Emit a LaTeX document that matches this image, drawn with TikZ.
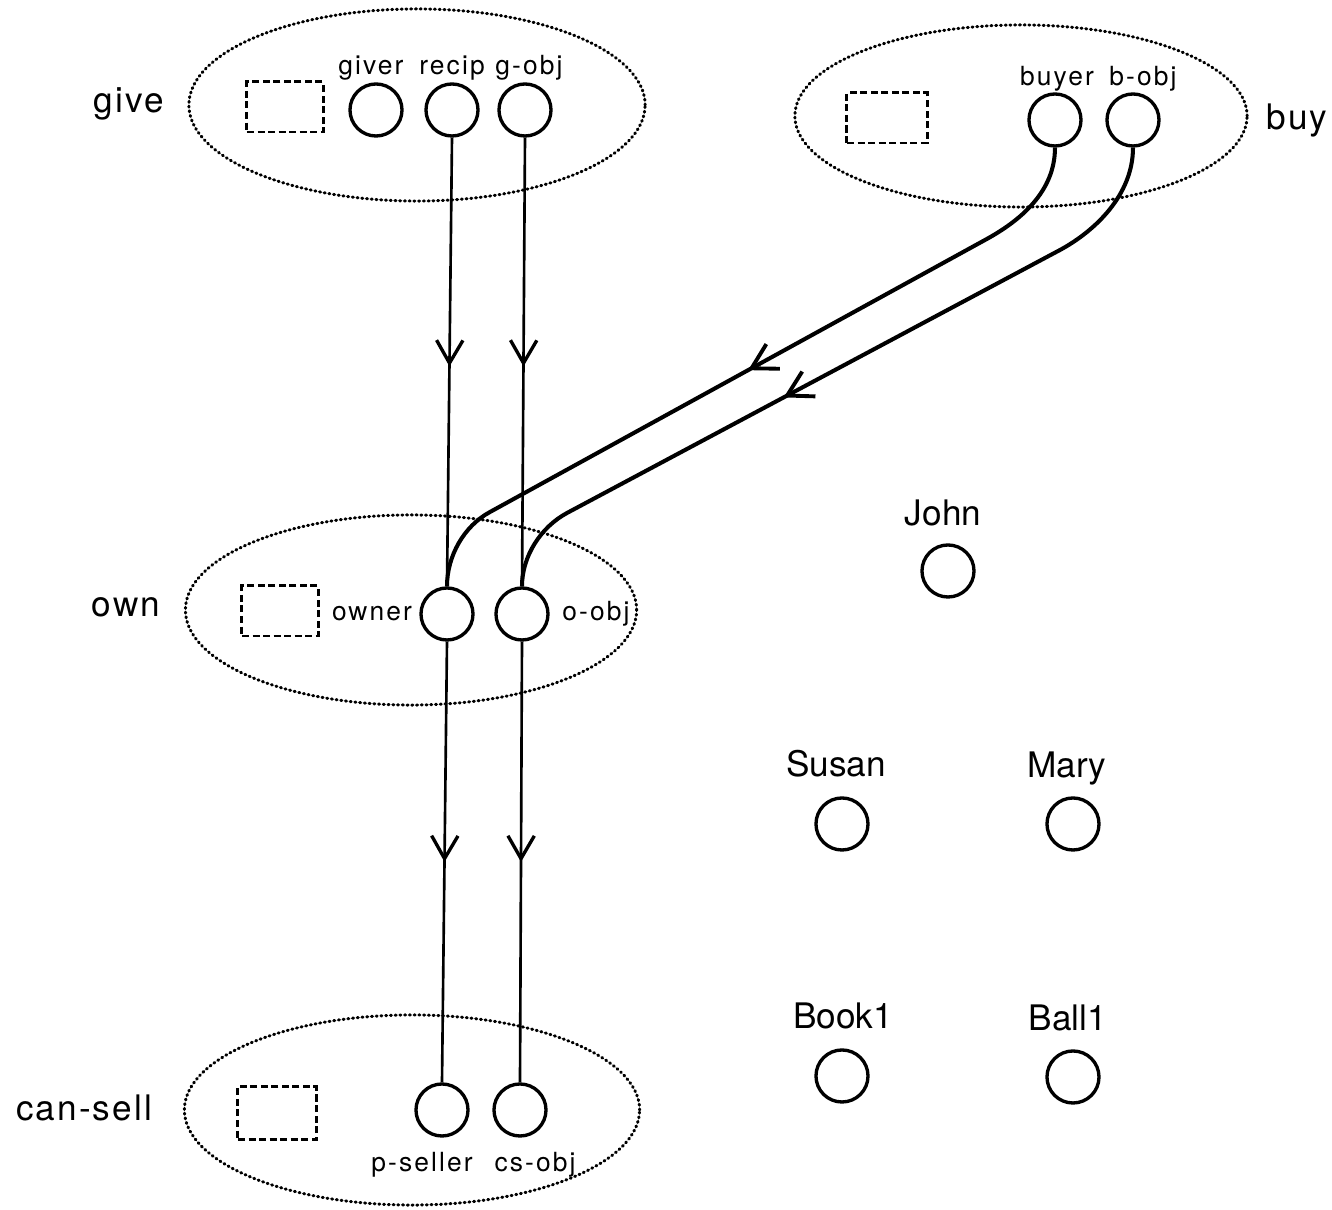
\documentclass[tikz,border=0pt]{standalone}
\usepackage{fontspec}
\setmainfont{TeX Gyre Heros}
\newfontfamily\bigsp[LetterSpace=6]{TeX Gyre Heros}
\newfontfamily\smallsp[LetterSpace=8]{TeX Gyre Heros}
\usetikzlibrary{shapes.geometric,arrows.meta,decorations.markings}
\tikzset{
  frame/.style={draw, ellipse, line width=0.85pt, line cap=round, dash pattern=on 0.3pt off 1.05pt, inner sep=0pt},
  slotbox/.style={draw, rectangle, line width=0.85pt, dash pattern=on 2pt off 1pt, inner sep=0pt},
  role/.style={draw, circle, line width=0.95pt, minimum size=0.52cm, inner sep=0pt},
  slab/.style={font=\smallsp\fontsize{7.5}{9}\selectfont, anchor=base, inner sep=0pt},
  blab/.style={font=\bigsp\fontsize{10}{12}\selectfont, anchor=base, inner sep=0pt},
  nlab/.style={font=\fontsize{10}{12}\selectfont, anchor=base, inner sep=0pt},
  vlink/.style={line width=0.75pt, postaction={decorate}, decoration={markings, mark=at position #1 with {\arrow[line width=0.95pt]{Straight Barb[length=6.5pt, width=7.5pt]}}}},
  dlink/.style={line width=1.15pt, postaction={decorate}, decoration={markings, mark=at position #1 with {\arrow[line width=1.1pt]{Straight Barb[length=7pt, width=8pt]}}}},
}
\begin{document}
\begin{tikzpicture}[x=0.01cm, y=-0.01cm]
\useasboundingbox (0,0) rectangle (1332,1210);

% frames
\node[frame, minimum width=4.56cm, minimum height=1.92cm] (give) at (417,105) {};
\node[frame, minimum width=4.52cm, minimum height=1.82cm] (buy) at (1021,116) {};
\node[frame, minimum width=4.51cm, minimum height=1.90cm] (own) at (411,610) {};
\node[frame, minimum width=4.55cm, minimum height=1.90cm] (cansell) at (412,1110) {};

% frame labels
\node[blab] (givel) at (129,113) {give};
\node[blab] (buyl) at (1297,130) {buy};
\node[blab] (ownl) at (126,617) {own};
\node[blab] (cansl) at (84,1121) {can-sell};

% slot boxes
\node[slotbox, minimum width=0.76cm, minimum height=0.50cm] (giveb) at (285,107) {};
\node[slotbox, minimum width=0.80cm, minimum height=0.50cm] (buyb) at (887,118) {};
\node[slotbox, minimum width=0.76cm, minimum height=0.50cm] (ownb) at (280,611) {};
\node[slotbox, minimum width=0.78cm, minimum height=0.53cm] (cansb) at (277,1113) {};

% role circles
\node[role] (giver) at (376,110) {};
\node[role] (recip) at (452,110) {};
\node[role] (gobj) at (525,110) {};
\node[role] (buyer) at (1055,120) {};
\node[role] (bobj) at (1133,120) {};
\node[role] (owner) at (447,614) {};
\node[role] (oobj) at (522,614) {};
\node[role] (pseller) at (442,1110) {};
\node[role] (csobj) at (520,1110) {};

% role labels
\node[slab] (giverl) at (371,75) {giver};
\node[slab] (recipl) at (452,75) {recip};
\node[slab] (gobjl) at (529,75) {g-obj};
\node[slab] (buyerl) at (1057,86) {buyer};
\node[slab] (bobjl) at (1143,86) {b-obj};
\node[slab] (ownerl) at (372,621) {owner};
\node[slab] (oobjl) at (596,621) {o-obj};
\node[slab] (psellerl) at (422,1172) {p-seller};
\node[slab] (csobjl) at (535,1172) {cs-obj};

% individuals
\node[role] (john) at (948,571) {};
\node[role] (susan) at (842,824) {};
\node[role] (mary) at (1073,824) {};
\node[role] (book) at (842,1076) {};
\node[role] (ball) at (1073,1077) {};
\node[nlab] (johnl) at (943,526) {John};
\node[nlab] (susanl) at (836,777) {Susan};
\node[nlab] (maryl) at (1067,778) {Mary};
\node[nlab] (bookl) at (843,1029) {Book1};
\node[nlab] (balll) at (1068,1031) {Ball1};

% vertical links
\draw[vlink=0.51] (recip.south) -- (owner.north);
\draw[vlink=0.51] (gobj.south) -- (oobj.north);
\draw[vlink=0.5] (owner.south) -- (pseller.north);
\draw[vlink=0.5] (oobj.south) -- (csobj.north);

% buy links
\coordinate (b1) at (985,240);
\coordinate (b2) at (490,512);
\coordinate (c1) at (1060,250);
\coordinate (c2) at (567,513);
\draw[dlink=0.505] (buyer.south) .. controls (1055,192) and (1020,221) .. (b1)
   -- (b2) .. controls (464,526) and (447,556) .. (owner.north);
\draw[dlink=0.57] (bobj.south) .. controls (1133,195) and (1095,231) .. (c1)
   -- (c2) .. controls (541,527) and (522,556) .. (oobj.north);
\end{tikzpicture}
\end{document}
